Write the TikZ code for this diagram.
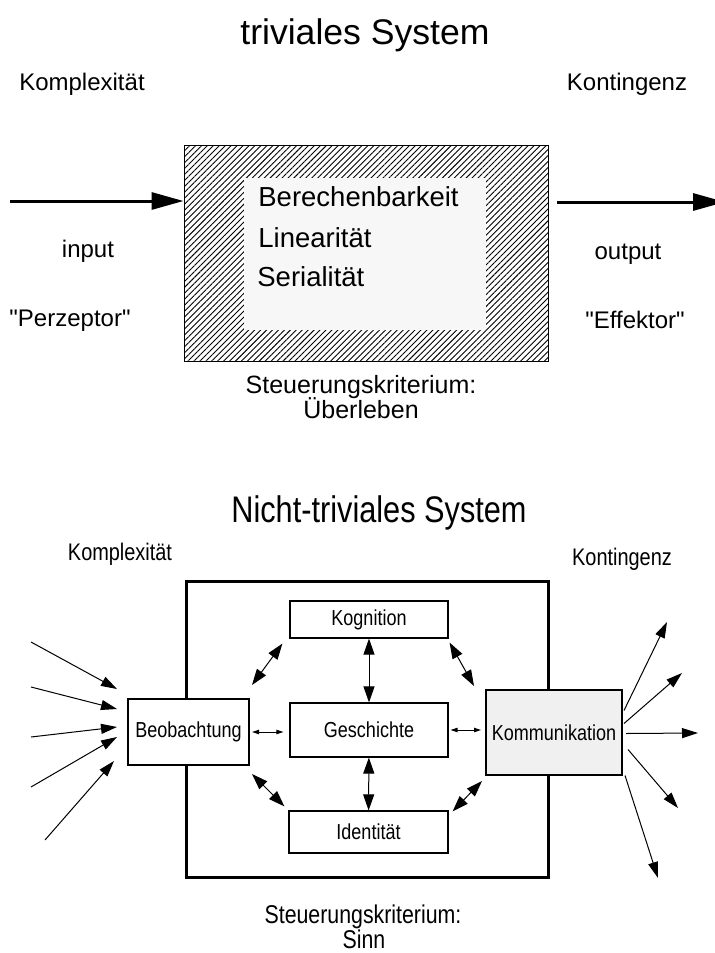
\documentclass[tikz,border=0pt]{standalone}
\usepackage{fontspec}
\setmainfont{Liberation Sans}[Ligatures=TeXOff]
\newfontfamily\narrowsans[FakeStretch=0.83]{Liberation Sans}
\usetikzlibrary{arrows.meta,patterns.meta,calc,positioning}

\tikzset{
  lbl/.style={font=\fontsize{12}{14}\selectfont, inner sep=0pt, anchor=base},
  nlbl/.style={font=\narrowsans\fontsize{12}{14}\selectfont, inner sep=0pt, anchor=base},
  feat/.style={font=\fontsize{13.75}{15}\selectfont, inner sep=0pt, anchor=base west},
  subbox/.style={draw, line width=0.6pt, fill=white, inner sep=0pt, font=\narrowsans\fontsize{10.85}{12}\selectfont},
  bigtip/.style={-{Triangle[length=16pt,width=8.5pt]}, line width=1.5pt},
  thinarrow/.style={-{Triangle[length=8pt,width=5pt]}, line width=0.5pt},
  twoway/.style={{Triangle[length=8pt,width=5.5pt]}-{Triangle[length=8pt,width=5.5pt]}, line width=0.5pt},
  smalltwoway/.style={{Triangle[length=3.5pt,width=2.2pt]}-{Triangle[length=3.5pt,width=2.2pt]}, line width=0.5pt},
}

\begin{document}
\begin{tikzpicture}[x=0.5pt, y=-0.5pt]
  \useasboundingbox (0,0) rectangle (714,953);

  % triviales System
  \begin{scope}
    \node[lbl, font=\fontsize{17.8}{20}\selectfont] (ttitle) at (365,44) {triviales System};
    \node[lbl] (tkompl) at (82,90) {Komplexität};
    \node[lbl] (tkont) at (627,90) {Kontingenz};

    \node[draw, line width=0.5pt, inner sep=0pt, minimum width=182pt, minimum height=108pt,
      pattern={Lines[angle=45, distance=2.1pt, line width=0.45pt]}] (triv) at (366,253) {};
    \node[fill=black!3, inner sep=0pt, minimum width=121pt, minimum height=76pt] (kern) at (365,254) {};
    \node[feat] (ber) at (258,206) {Berechenbarkeit};
    \node[feat] (lin) at (258,247) {Linearität};
    \node[feat] (ser) at (257,286) {Serialität};

    \coordinate (inp) at (10,201);
    \coordinate (outp) at (725,202);
    \draw[bigtip] (inp) -- (inp -| triv.west);
    \draw[bigtip, shorten <=4.5pt] (triv.east |- outp) -- (outp);

    \node[lbl] (inlbl) at (88,257) {input};
    \node[lbl] (perz) at (70,326) {"Perzeptor"};
    \node[lbl] (outlbl) at (628,259) {output};
    \node[lbl] (eff) at (635,328) {"Effektor"};

    \node[lbl, font=\fontsize{12.5}{14}\selectfont] (tcrit) at (361,393) {Steuerungskriterium:};
    \node[lbl, font=\fontsize{12.5}{14}\selectfont] (tziel) at (361,418) {Überleben};
  \end{scope}

  % Nicht-triviales System
  \begin{scope}
    \node[lbl, font=\narrowsans\fontsize{18.5}{20}\selectfont] (ntitle) at (379,522) {Nicht-triviales System};
    \node[nlbl] (nkompl) at (120,560) {Komplexität};
    \node[nlbl] (nkont) at (622,565) {Kontingenz};

    \node[draw, line width=1.5pt, inner sep=0pt, minimum width=181pt, minimum height=148pt] (sys) at (367,729) {};

    \node[subbox, minimum width=79pt, minimum height=18.5pt] (kogn) at (369,619.5) {Kognition};
    \node[subbox, minimum width=79pt, minimum height=27pt] (gesch) at (369,730) {Geschichte};
    \node[subbox, minimum width=79.5pt, minimum height=21pt] (ident) at (368.5,832) {Identität};
    \node[subbox, line width=1pt, minimum width=60.5pt, minimum height=33pt] (beob) at (188.5,732) {Beobachtung};
    \node[subbox, line width=1pt, fill=black!6, minimum width=68pt, minimum height=42.5pt] (kommu) at (554,732.5) {Kommunikation};

    \draw[twoway] (kogn) -- (gesch);
    \draw[twoway] (gesch) -- (ident);
    \draw[smalltwoway, shorten <=1pt, shorten >=3pt] (beob.east) -- (gesch.west |- beob.east);
    \draw[smalltwoway, shorten <=1pt, shorten >=2pt] (gesch.east) -- (kommu.west |- gesch.east);
    \draw[twoway] ([shift={(2,-13)}]beob.north east) -- ([shift={(-7,5)}]kogn.south west);
    \draw[twoway] ([shift={(1,4)}]kogn.south east) -- ([shift={(-11,-3)}]kommu.north west);
    \draw[twoway] ([shift={(2,8)}]beob.south east) -- ([shift={(-4,-4)}]ident.north west);
    \draw[twoway] ([shift={(4,1)}]ident.north east) -- ([shift={(-3,5)}]kommu.south west);

    % einfallende Pfeile
    \foreach \n/\sx/\sy/\tx/\ty in {1/31/642/-10/-43, 2/31/687/-10/-23, 3/31/737/-10/-5, 4/31/787/-10/5, 5/45/840/-13/29} {
      \coordinate (src\n) at (\sx,\sy);
      \draw[thinarrow] (src\n) -- ([shift={(\tx,\ty)}]beob.west);
    }
    % ausgehende Pfeile
    \foreach \n/\sx/\sy/\tx/\ty in {1/1/-22/667/622, 2/1/-9/682/673, 3/3/1/698/733, 4/5/17/678/808, 5/2/43/658/878} {
      \coordinate (dst\n) at (\tx,\ty);
      \draw[thinarrow] ([shift={(\sx,\sy)}]kommu.east) -- (dst\n);
    }

    \node[nlbl, font=\narrowsans\fontsize{12.85}{14}\selectfont] (ncrit) at (363,923) {Steuerungskriterium:};
    \node[nlbl, font=\narrowsans\fontsize{12.85}{14}\selectfont] (nziel) at (364,948) {Sinn};
  \end{scope}
\end{tikzpicture}
\end{document}
